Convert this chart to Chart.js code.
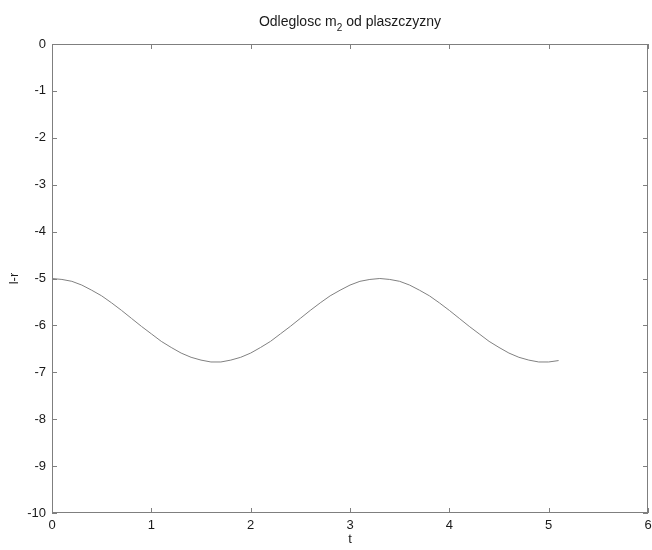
<!DOCTYPE html>
<html>
<head>
<meta charset="utf-8">
<script src="https://cdn.jsdelivr.net/npm/chart.js@4"></script>
<style>
  html, body { margin: 0; padding: 0; background: #fff; }
  #wrap { width: 652px; height: 550px; }
</style>
</head>
<body>
<div id="wrap"><canvas id="chart" width="652" height="550"></canvas></div>
<script>
// Data
const tValues = [0.0, 0.1, 0.2, 0.3, 0.4, 0.5, 0.6, 0.7, 0.8, 0.9,
                 1.0, 1.1, 1.2, 1.3, 1.4, 1.5, 1.6, 1.7, 1.8, 1.9,
                 2.0, 2.1, 2.2, 2.3, 2.4, 2.5, 2.6, 2.7, 2.8, 2.9,
                 3.0, 3.1, 3.2, 3.3, 3.4, 3.5, 3.6, 3.7, 3.8, 3.9,
                 4.0, 4.1, 4.2, 4.3, 4.4, 4.5, 4.6, 4.7, 4.8, 4.9,
                 5.0, 5.1];
const distValues = [-5.00, -5.02, -5.06, -5.14, -5.25, -5.37, -5.52, -5.68, -5.85, -6.02,
                    -6.18, -6.34, -6.47, -6.59, -6.68, -6.74, -6.78, -6.78, -6.74, -6.68,
                    -6.59, -6.47, -6.34, -6.18, -6.02, -5.85, -5.68, -5.52, -5.37, -5.25,
                    -5.14, -5.06, -5.02, -5.00, -5.02, -5.06, -5.14, -5.25, -5.37, -5.52,
                    -5.68, -5.85, -6.02, -6.18, -6.34, -6.47, -6.59, -6.68, -6.74, -6.78,
                    -6.78, -6.75];
const xTicks = [0, 1, 2, 3, 4, 5, 6];
const yTicks = [0, -1, -2, -3, -4, -5, -6, -7, -8, -9, -10];

const titleMain = 'Odleglosc m';
const titleSub = '2';
const titleRest = ' od plaszczyzny';
const xLabel = 't';
const yLabel = 'l-r';

const fontFamily = '"Liberation Sans", Arial, sans-serif';
const axisColor = '#7f7f7f';
const textColor = '#1a1a1a';

// Points for the line
const points = tValues.map((t, i) => ({ x: t, y: distValues[i] }));

// Box around plot area with inward ticks on all four sides, plus the title
const boxPlugin = {
    id: 'box',
    afterDraw(chart) {
        const { ctx, chartArea: a, scales } = chart;
        const tl = 5;
        ctx.save();
        ctx.strokeStyle = axisColor;
        ctx.lineWidth = 1;
        ctx.strokeRect(Math.round(a.left) + 0.5, Math.round(a.top) + 0.5,
                       Math.round(a.right - a.left) - 1, Math.round(a.bottom - a.top) - 1);
        ctx.beginPath();
        xTicks.forEach(v => {
            const x = Math.round(scales.x.getPixelForValue(v)) + 0.5;
            ctx.moveTo(x, a.bottom); ctx.lineTo(x, a.bottom - tl);
            ctx.moveTo(x, a.top); ctx.lineTo(x, a.top + tl);
        });
        yTicks.forEach(v => {
            const y = Math.round(scales.y.getPixelForValue(v)) + 0.5;
            ctx.moveTo(a.left, y); ctx.lineTo(a.left + tl, y);
            ctx.moveTo(a.right, y); ctx.lineTo(a.right - tl, y);
        });
        ctx.stroke();

        // Title with subscript
        const cx = (a.left + a.right) / 2;
        const ty = 22;
        ctx.fillStyle = textColor;
        ctx.textBaseline = 'middle';
        ctx.font = '14px ' + fontFamily;
        const w1 = ctx.measureText(titleMain).width;
        const w3 = ctx.measureText(titleRest).width;
        ctx.font = '10px ' + fontFamily;
        const w2 = ctx.measureText(titleSub).width;
        const x0 = cx - (w1 + w2 + w3) / 2;
        ctx.textAlign = 'left';
        ctx.font = '14px ' + fontFamily;
        ctx.fillText(titleMain, x0, ty);
        ctx.font = '10px ' + fontFamily;
        ctx.fillText(titleSub, x0 + w1, ty + 6);
        ctx.font = '14px ' + fontFamily;
        ctx.fillText(titleRest, x0 + w1 + w2, ty);
        ctx.restore();
    }
};

const ctx = document.getElementById('chart').getContext('2d');
const chart = new Chart(ctx, {
    type: 'line',
    data: {
        datasets: [{
            data: points,
            borderColor: '#808080',
            borderWidth: 1,
            pointRadius: 0,
            tension: 0,
            fill: false
        }]
    },
    options: {
        responsive: false,
        animation: false,
        events: [],
        layout: { padding: { top: 44, right: 4, left: 0, bottom: 0 } },
        plugins: {
            legend: { display: false },
            title: { display: false },
            tooltip: { enabled: false }
        },
        scales: {
            x: {
                type: 'linear',
                min: 0,
                max: 6,
                afterFit: s => {
                    s.height = 37;
                    s.paddingLeft = 0;
                    s.paddingRight = 0;
                },
                afterBuildTicks: s => { s.ticks = xTicks.map(v => ({ value: v })); },
                grid: { display: false, drawTicks: false },
                border: { display: false },
                ticks: {
                    padding: 5,
                    maxRotation: 0,
                    autoSkip: false,
                    color: textColor,
                    font: { family: fontFamily, size: 13 }
                },
                title: {
                    display: true,
                    text: xLabel,
                    color: textColor,
                    font: { family: fontFamily, size: 13 },
                    padding: { top: 0, bottom: 3 }
                }
            },
            y: {
                type: 'linear',
                min: -10,
                max: 0,
                afterFit: s => {
                    s.width = 52;
                    s.paddingTop = 0;
                    s.paddingBottom = 0;
                },
                afterBuildTicks: s => { s.ticks = yTicks.map(v => ({ value: v })); },
                grid: { display: false, drawTicks: false },
                border: { display: false },
                ticks: {
                    padding: 6,
                    autoSkip: false,
                    color: textColor,
                    font: { family: fontFamily, size: 13 }
                },
                title: {
                    display: true,
                    text: yLabel,
                    color: textColor,
                    font: { family: fontFamily, size: 13 },
                    padding: { top: 7, bottom: 0 }
                }
            }
        }
    },
    plugins: [boxPlugin]
});
</script>
</body>
</html>
